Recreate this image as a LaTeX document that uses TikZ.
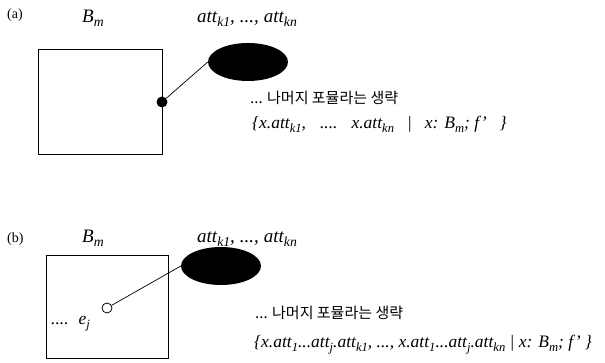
\documentclass[tikz,border=0pt]{standalone}
\usepackage{fontspec}
\setmainfont{Liberation Serif}
\newfontfamily\kofont{Noto Sans CJK KR}
\usetikzlibrary{shapes.geometric}
\newcommand\mysb[1]{\raisebox{-0.18em}{\scalebox{0.72}{#1}}}
\tikzset{
  x=1pt,y=1pt,
  lbl/.style={inner sep=0pt,anchor=base west,font=\fontsize{14}{16}\selectfont},
  ttl/.style={inner sep=0pt,anchor=base west,font=\fontsize{19}{22}\selectfont\itshape},
  frm/.style={inner sep=0pt,anchor=base west,font=\fontsize{17.5}{20}\selectfont\itshape},
  kor/.style={inner sep=0pt,anchor=base west,font=\fontsize{15}{17}\selectfont\kofont},
  box/.style={draw,line width=0.8pt},
  blob/.style={ellipse,fill=black,minimum width=80pt,minimum height=38pt,inner sep=0pt},
  conn/.style={draw,line width=0.7pt},
}
\begin{document}
\begin{tikzpicture}
\useasboundingbox (0,0) rectangle (605,363);
% (a)
\node[lbl] (la) at (7,344) {(a)};
\node[ttl] (ba) at (82,340) {B\mysb{m}};
\node[ttl] (aa) at (197,340) {att\mysb{k1},\hspace{5pt}...,\hspace{5pt}att\mysb{kn}};
\node[draw,box,minimum width=124pt,minimum height=105pt,inner sep=0pt] (boxa) at (100,261.5) {};
\node[circle,fill=black,minimum size=11pt,inner sep=0pt] (dota) at (162,261) {};
\node[blob] (ella) at (248,301) {};
\draw[conn] (dota) -- (ella.west);
\node[kor] (ka) at (250,259) {... 나머지 포뮬라는 생략};
\node[frm] (fa) at (252,234) {\{x.att\mysb{k1},\hspace{14pt}....\hspace{14pt}x.att\mysb{kn}\hspace{13pt}|\hspace{13pt}x: B\mysb{m}; f'\hspace{13pt}\}};
% (b)
\node[lbl] (lb) at (7,120) {(b)};
\node[ttl] (bb) at (82,120) {B\mysb{m}};
\node[ttl] (ab) at (197,120) {att\mysb{k1},\hspace{5pt}...,\hspace{5pt}att\mysb{kn}};
\node[draw,box,minimum width=122pt,minimum height=103pt,inner sep=0pt] (boxb) at (107,56.5) {};
\node[circle,draw,fill=white,line width=0.8pt,minimum size=10pt,inner sep=0pt] (cb) at (107,55) {};
\node[blob] (ellb) at (221,97) {};
\draw[conn] (cb) -- (ellb.west);
\node[frm] (ej) at (51,38) {....\hspace{10pt}e\mysb{j}};
\node[kor] (kb) at (255,44) {... 나머지 포뮬라는 생략};
\node[frm] (fb) at (254,15) {\{x.att\mysb{1}...att\mysb{j}.att\mysb{k1}, ..., x.att\mysb{1}...att\mysb{j}.att\mysb{kn} | x: B\mysb{m}; f' \}};
\end{tikzpicture}
\end{document}
